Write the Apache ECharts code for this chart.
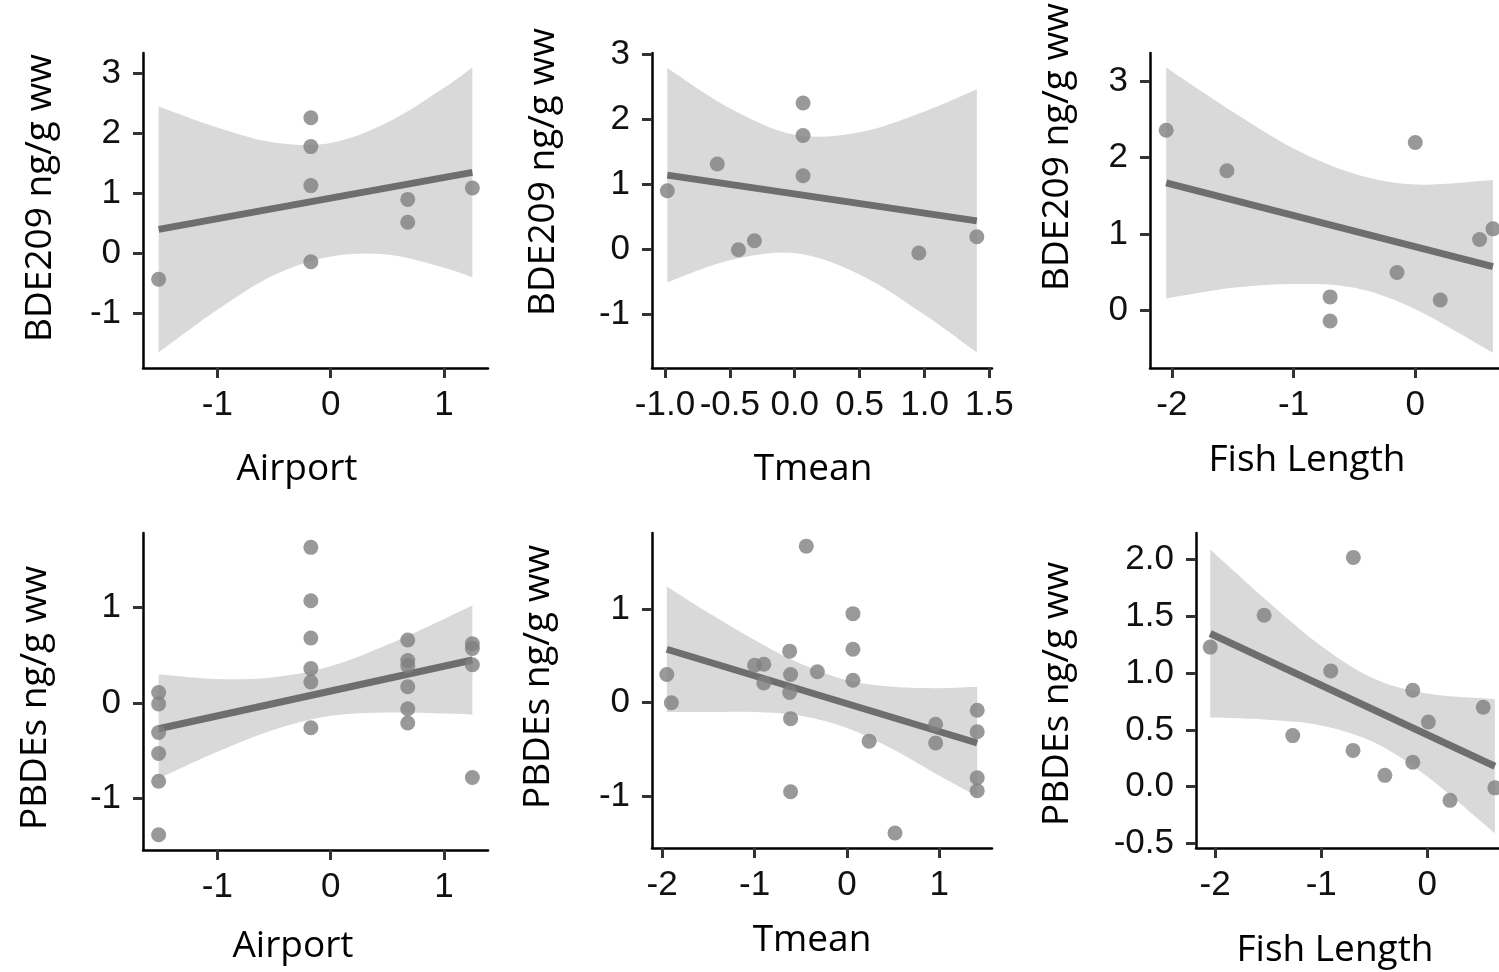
<!DOCTYPE html>
<html>
<head>
<meta charset="utf-8">
<title>BDE209 and PBDEs regressions</title>
<script src="https://cdn.jsdelivr.net/npm/echarts@6/dist/echarts.min.js"></script>
<style>
  html, body { margin: 0; padding: 0; background: #fff; }
  #chart { width: 1499px; height: 972px; }
</style>
</head>
<body>
<div id="chart"></div>
<script>
// --- data ---
// top row: BDE209 ng/g ww
const bdeAirportX = [-1.518, -0.175, -0.175, -0.175, -0.175, 0.68, 0.68, 1.25];
const bdeAirportY = [-0.43, 2.26, 1.78, 1.13, -0.14, 0.90, 0.52, 1.09];
const bdeAirportFitX = [-1.518, 1.25];
const bdeAirportFitY = [0.40, 1.35];
const bdeAirportBandX = [-1.518, -1.0, -0.5, 0, 0.5, 1.0, 1.25];
const bdeAirportUpper = [2.45, 2.10, 1.85, 1.84, 2.18, 2.76, 3.10];
const bdeAirportLower = [-1.65, -0.94, -0.36, -0.05, -0.02, -0.24, -0.40];

const bdeTmeanX = [-0.982, -0.597, -0.434, -0.311, 0.064, 0.064, 0.064, 0.956, 1.403];
const bdeTmeanY = [0.90, 1.31, -0.01, 0.13, 2.25, 1.75, 1.13, -0.06, 0.19];
const bdeTmeanFitX = [-0.982, 1.403];
const bdeTmeanFitY = [1.14, 0.435];
const bdeTmeanBandX = [-0.982, -0.5, 0, 0.5, 1.0, 1.403];
const bdeTmeanUpper = [2.79, 2.17, 1.76, 1.80, 2.12, 2.46];
const bdeTmeanLower = [-0.51, -0.17, -0.06, -0.39, -1.01, -1.59];

const bdeFishX = [-2.047, -1.548, -0.70, -0.70, 0.0, -0.15, 0.205, 0.528, 0.638];
const bdeFishY = [2.36, 1.83, 0.18, -0.135, 2.20, 0.50, 0.14, 0.93, 1.07];
const bdeFishFitX = [-2.047, 0.638];
const bdeFishFitY = [1.67, 0.577];
const bdeFishBandX = [-2.047, -1.5, -1.0, -0.5, 0, 0.638];
const bdeFishUpper = [3.18, 2.60, 2.12, 1.79, 1.65, 1.71];
const bdeFishLower = [0.16, 0.30, 0.35, 0.30, 0.02, -0.55];

// bottom row: PBDEs ng/g ww
const pbdeAirportX = [-1.518, -1.518, -1.518, -1.518, -1.518, -1.518,
  -0.175, -0.175, -0.175, -0.175, -0.175, -0.175,
  0.68, 0.68, 0.68, 0.68, 0.68, 0.68,
  1.25, 1.25, 1.25, 1.25];
const pbdeAirportY = [0.11, -0.01, -0.31, -0.53, -0.82, -1.38,
  1.63, 1.07, 0.68, 0.36, 0.22, -0.26,
  0.66, 0.445, 0.39, 0.17, -0.06, -0.21,
  0.62, 0.57, 0.40, -0.78];
const pbdeAirportFitX = [-1.518, 1.25];
const pbdeAirportFitY = [-0.27, 0.45];
const pbdeAirportBandX = [-1.518, -1.0, -0.5, 0, 0.5, 1.0, 1.25];
const pbdeAirportUpper = [0.30, 0.25, 0.27, 0.385, 0.61, 0.88, 1.02];
const pbdeAirportLower = [-0.79, -0.51, -0.28, -0.135, -0.10, -0.11, -0.12];

const pbdeTmeanX = [-1.95, -1.90, -1.0, -0.90, -0.90, -0.62, -0.61, -0.62, -0.61, -0.61,
  -0.44, -0.32, 0.065, 0.065, 0.065, 0.24, 0.52, 0.96, 0.96, 1.41, 1.41, 1.41, 1.41];
const pbdeTmeanY = [0.30, 0.0, 0.40, 0.41, 0.21, 0.55, 0.30, 0.11, -0.17, -0.95,
  1.67, 0.33, 0.95, 0.57, 0.24, -0.41, -1.39, -0.23, -0.43, -0.08, -0.31, -0.80, -0.94];
const pbdeTmeanFitX = [-1.95, 1.41];
const pbdeTmeanFitY = [0.57, -0.43];
const pbdeTmeanBandX = [-1.95, -1.5, -1.0, -0.5, 0, 0.5, 1.0, 1.41];
const pbdeTmeanUpper = [1.24, 0.96, 0.67, 0.415, 0.24, 0.17, 0.155, 0.17];
const pbdeTmeanLower = [-0.10, -0.10, -0.10, -0.14, -0.27, -0.50, -0.78, -1.00];

const pbdeFishX = [-2.046, -1.538, -1.268, -0.91, -0.697, -0.70, -0.40, -0.137, -0.137, 0.01, 0.214, 0.527, 0.637];
const pbdeFishY = [1.23, 1.51, 0.45, 1.02, 2.02, 0.32, 0.10, 0.85, 0.215, 0.57, -0.12, 0.70, -0.01];
const pbdeFishFitX = [-2.046, 0.637];
const pbdeFishFitY = [1.35, 0.18];
const pbdeFishBandX = [-2.046, -1.5, -1.0, -0.5, 0, 0.637];
const pbdeFishUpper = [2.09, 1.63, 1.24, 0.95, 0.82, 0.77];
const pbdeFishLower = [0.61, 0.59, 0.54, 0.39, 0.09, -0.41];

// tick labels
const ticksInt3 = [-1, 0, 1, 2, 3];
const ticksFishBde = [0, 1, 2, 3];
const ticksTmeanX = [-1.0, -0.5, 0.0, 0.5, 1.0, 1.5];
const ticksAirportX = [-1, 0, 1];
const ticksFishX = [-2, -1, 0];
const ticksPbdeY = [-1, 0, 1];
const ticksTmeanPbdeX = [-2, -1, 0, 1];
const ticksFishPbdeY = [-0.5, 0.0, 0.5, 1.0, 1.5, 2.0];

const bdeTitle = 'BDE209 ng/g ww';
const pbdeTitle = 'PBDEs ng/g ww';

const panels = [
  { grid: [143, 53, 345, 315], xr: [-1.656, 1.388], yr: [-1.91, 3.34], xt: ticksAirportX, yt: ticksInt3, xd: 0, yd: 0,
    px: bdeAirportX, py: bdeAirportY, fx: bdeAirportFitX, fy: bdeAirportFitY, bx: bdeAirportBandX, bu: bdeAirportUpper, bl: bdeAirportLower },
  { grid: [652, 53, 340, 315], xr: [-1.10, 1.52], yr: [-1.83, 3.02], xt: ticksTmeanX, yt: ticksInt3, xd: 1, yd: 0,
    px: bdeTmeanX, py: bdeTmeanY, fx: bdeTmeanFitX, fy: bdeTmeanFitY, bx: bdeTmeanBandX, bu: bdeTmeanUpper, bl: bdeTmeanLower },
  { grid: [1150, 53, 359, 315], xr: [-2.18, 0.77], yr: [-0.75, 3.37], xt: ticksFishX, yt: ticksFishBde, xd: 0, yd: 0,
    px: bdeFishX, py: bdeFishY, fx: bdeFishFitX, fy: bdeFishFitY, bx: bdeFishBandX, bu: bdeFishUpper, bl: bdeFishLower },
  { grid: [143, 533, 345, 317], xr: [-1.656, 1.388], yr: [-1.54, 1.78], xt: ticksAirportX, yt: ticksPbdeY, xd: 0, yd: 0,
    px: pbdeAirportX, py: pbdeAirportY, fx: pbdeAirportFitX, fy: pbdeAirportFitY, bx: pbdeAirportBandX, bu: pbdeAirportUpper, bl: pbdeAirportLower },
  { grid: [652, 533, 340, 315], xr: [-2.11, 1.57], yr: [-1.55, 1.81], xt: ticksTmeanPbdeX, yt: ticksPbdeY, xd: 0, yd: 0,
    px: pbdeTmeanX, py: pbdeTmeanY, fx: pbdeTmeanFitX, fy: pbdeTmeanFitY, bx: pbdeTmeanBandX, bu: pbdeTmeanUpper, bl: pbdeTmeanLower },
  { grid: [1196, 533, 313, 315], xr: [-2.18, 0.77], yr: [-0.54, 2.235], xt: ticksFishX, yt: ticksFishPbdeY, xd: 0, yd: 1,
    px: pbdeFishX, py: pbdeFishY, fx: pbdeFishFitX, fy: pbdeFishFitY, bx: pbdeFishBandX, bu: pbdeFishUpper, bl: pbdeFishLower }
];

// axis titles: [text, x, y, rotated]
const titles = [
  [bdeTitle, 40, 198, true], [bdeTitle, 543, 172, true], [bdeTitle, 1057, 147, true],
  [pbdeTitle, 35, 698, true], [pbdeTitle, 538, 677, true], [pbdeTitle, 1057, 694, true],
  ['Airport', 297, 469, false], ['Tmean', 813, 469, false], ['Fish Length', 1307, 460, false],
  ['Airport', 293, 946, false], ['Tmean', 812, 940, false], ['Fish Length', 1335, 950, false]
];

const tickFont = 'Liberation Sans';
const titleFont = 'Open Sans';

function makeAxis(idx, range, ticks, decimals, isX) {
  return {
    type: 'value',
    gridIndex: idx,
    min: range[0],
    max: range[1],
    position: isX ? 'bottom' : 'left',
    splitLine: { show: false },
    axisLine: { show: true, onZero: false, lineStyle: { color: '#000', width: 2.5 } },
    axisTick: { show: true, length: 10, customValues: ticks, lineStyle: { color: '#333', width: 3 } },
    axisLabel: {
      customValues: ticks,
      margin: isX ? 20 : 22,
      color: '#111',
      fontSize: 35,
      fontFamily: tickFont,
      formatter: v => Number(v).toFixed(decimals)
    }
  };
}

// smooth path through pixel points (Catmull-Rom -> cubic bezier)
function curveTo(pts) {
  let d = '';
  for (let k = 0; k < pts.length - 1; k++) {
    const p0 = pts[Math.max(k - 1, 0)], p1 = pts[k], p2 = pts[k + 1], p3 = pts[Math.min(k + 2, pts.length - 1)];
    const c1 = [p1[0] + (p2[0] - p0[0]) / 6, p1[1] + (p2[1] - p0[1]) / 6];
    const c2 = [p2[0] - (p3[0] - p1[0]) / 6, p2[1] - (p3[1] - p1[1]) / 6];
    d += ' C' + c1[0] + ',' + c1[1] + ' ' + c2[0] + ',' + c2[1] + ' ' + p2[0] + ',' + p2[1];
  }
  return d;
}

function bandRenderer(p) {
  return function (params, api) {
    if (params.dataIndex !== 0) return null;
    const up = p.bx.map((x, k) => api.coord([x, p.bu[k]]));
    const lo = p.bx.map((x, k) => api.coord([x, p.bl[k]])).reverse();
    const d = 'M' + up[0][0] + ',' + up[0][1] + curveTo(up) +
      ' L' + lo[0][0] + ',' + lo[0][1] + curveTo(lo) + ' Z';
    return { type: 'path', shape: { pathData: d }, style: { fill: '#d9d9d9', stroke: null } };
  };
}

const chart = echarts.init(document.getElementById('chart'), null, { renderer: 'canvas' });

const grid = [], xAxis = [], yAxis = [], series = [];
panels.forEach((p, i) => {
  grid.push({ left: p.grid[0], top: p.grid[1], width: p.grid[2], height: p.grid[3],
    containLabel: false, outerBoundsMode: 'none' });
  xAxis.push(makeAxis(i, p.xr, p.xt, p.xd, true));
  yAxis.push(makeAxis(i, p.yr, p.yt, p.yd, false));
  series.push({
    type: 'custom', xAxisIndex: i, yAxisIndex: i, silent: true, z: 1,
    data: p.bx.map((x, k) => [x, p.bl[k], p.bu[k]]),
    encode: { x: 0, y: [1, 2] },
    renderItem: bandRenderer(p)
  });
  series.push({
    type: 'line', xAxisIndex: i, yAxisIndex: i, showSymbol: false, silent: true, z: 3,
    lineStyle: { color: '#6e6e6e', width: 7 },
    data: p.fx.map((x, k) => [x, p.fy[k]])
  });
  series.push({
    type: 'scatter', xAxisIndex: i, yAxisIndex: i, symbolSize: 15, z: 4,
    itemStyle: { color: '#808080' },
    data: p.px.map((x, k) => [x, p.py[k]])
  });
});

const graphic = titles.map(t => ({
  type: 'text',
  x: t[1], y: t[2],
  rotation: t[3] ? Math.PI / 2 : 0,
  style: {
    text: t[0], fill: '#000', fontSize: 37, fontFamily: titleFont,
    align: 'center', verticalAlign: 'middle'
  }
}));

chart.setOption({
  backgroundColor: '#fff',
  animation: false,
  grid, xAxis, yAxis, series, graphic
});
</script>
</body>
</html>
